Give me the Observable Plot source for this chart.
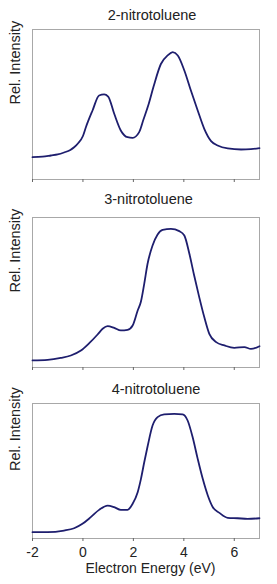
<!DOCTYPE html>
<html>
<head>
<meta charset="utf-8">
<script src="https://cdn.jsdelivr.net/npm/d3@7"></script>
<script src="https://cdn.jsdelivr.net/npm/@observablehq/plot@0.6"></script>
<style>
  html, body { margin: 0; padding: 0; background: #fff; }
  #chart { width: 277px; }
  #chart svg { display: block; }
</style>
</head>
<body>
<div id="chart"></div>
<script>
// Panel titles
const titles = ["2-nitrotoluene", "3-nitrotoluene", "4-nitrotoluene"];
const yLabel = "Rel. Intensity";
const xLabel = "Electron Energy (eV)";
const xTicks = [-2, 0, 2, 4, 6];

// 2-nitrotoluene
const energy2 = [-2.0, -1.6, -1.27, -1.0, -0.75, -0.5, -0.35, -0.2, 0.0, 0.12, 0.38, 0.64, 0.84, 1.0, 1.24, 1.5, 1.77, 1.97, 2.23, 2.4, 2.6, 2.8, 3.09, 3.36, 3.56, 3.76, 4.02, 4.28, 4.55, 4.81, 5.08, 5.34, 5.74, 6.27, 6.66, 7.0];
const intensity2 = [0.149, 0.152, 0.16, 0.167, 0.18, 0.197, 0.215, 0.24, 0.29, 0.35, 0.46, 0.56, 0.567, 0.553, 0.438, 0.327, 0.282, 0.278, 0.316, 0.40, 0.50, 0.62, 0.77, 0.827, 0.849, 0.827, 0.727, 0.593, 0.46, 0.338, 0.256, 0.227, 0.207, 0.2, 0.202, 0.209];

// 3-nitrotoluene
const energy3 = [-2.0, -1.4, -0.88, -0.48, -0.08, 0.25, 0.58, 0.78, 0.98, 1.24, 1.5, 1.77, 1.97, 2.17, 2.3, 2.43, 2.56, 2.76, 2.96, 3.16, 3.49, 3.82, 4.02, 4.22, 4.41, 4.61, 4.81, 5.01, 5.28, 5.61, 6.0, 6.4, 6.66, 7.0];
const intensity3 = [0.047, 0.051, 0.064, 0.08, 0.113, 0.162, 0.22, 0.258, 0.276, 0.264, 0.247, 0.251, 0.28, 0.38, 0.44, 0.558, 0.69, 0.813, 0.887, 0.918, 0.924, 0.909, 0.88, 0.758, 0.613, 0.469, 0.336, 0.224, 0.169, 0.147, 0.131, 0.136, 0.124, 0.142];

// 4-nitrotoluene
const energy4 = [-2.0, -1.4, -0.75, -0.35, -0.02, 0.31, 0.64, 0.98, 1.24, 1.5, 1.77, 1.97, 2.17, 2.3, 2.43, 2.56, 2.76, 2.96, 3.22, 3.62, 3.95, 4.15, 4.35, 4.55, 4.75, 4.95, 5.15, 5.41, 5.74, 6.13, 6.53, 7.0];
const intensity4 = [0.047, 0.047, 0.059, 0.076, 0.109, 0.158, 0.212, 0.244, 0.232, 0.212, 0.212, 0.257, 0.343, 0.442, 0.565, 0.68, 0.837, 0.899, 0.919, 0.923, 0.919, 0.874, 0.75, 0.59, 0.442, 0.319, 0.232, 0.19, 0.153, 0.15, 0.146, 0.15];

const series = [
  {energy: energy2, intensity: intensity2},
  {energy: energy3, intensity: intensity3},
  {energy: energy4, intensity: intensity4}
];

const layouts = [
  {height: 188, marginTop: 29, marginBottom: 9, titleDy: -14.5, titleDx: 6, showLabels: false},
  {height: 192, marginTop: 29, marginBottom: 13, titleDy: -18.3, titleDx: 2.5, showLabels: false},
  {height: 204, marginTop: 23, marginBottom: 46, titleDy: -14.3, titleDx: 10, showLabels: true}
];

const font = "Liberation Sans, Arial, Helvetica, sans-serif";
const lineColor = "#1e1e6e";
const textColor = "#222";

const chart = document.getElementById("chart");

series.forEach((s, i) => {
  const L = layouts[i];
  const rows = s.energy.map((e, k) => ({e, v: s.intensity[k]}));
  const marks = [
    Plot.frame({stroke: "#a8a8a8", strokeWidth: 1}),
    Plot.axisX(xTicks, {
      tickSize: 3,
      tickPadding: 6,
      stroke: "#666",
      fill: textColor,
      fontSize: 14,
      tickFormat: L.showLabels ? (d => String(d)) : (() => ""),
      label: null
    }),
    Plot.line(rows, {x: "e", y: "v", stroke: lineColor, strokeWidth: 1.8, curve: "monotone-x"}),
    Plot.text([titles[i]], {frameAnchor: "top", lineAnchor: "middle", dy: L.titleDy, dx: L.titleDx, fontSize: 14.5, fill: textColor}),
    Plot.text([yLabel], {frameAnchor: "left", lineAnchor: "middle", rotate: -90, dx: -17, fontSize: 14.5, fill: textColor})
  ];
  if (L.showLabels) {
    marks.push(Plot.text([xLabel], {frameAnchor: "bottom", lineAnchor: "middle", dy: 30, dx: 4.5, fontSize: 14, fill: textColor}));
  }
  const svg = Plot.plot({
    width: 277,
    height: L.height,
    marginLeft: 32,
    marginRight: 18,
    marginTop: L.marginTop,
    marginBottom: L.marginBottom,
    style: {fontFamily: font, background: "#fff", overflow: "visible"},
    x: {domain: [-2, 7], axis: null},
    y: {domain: [0, 1], axis: null},
    marks
  });
  chart.appendChild(svg);
});
</script>
</body>
</html>
